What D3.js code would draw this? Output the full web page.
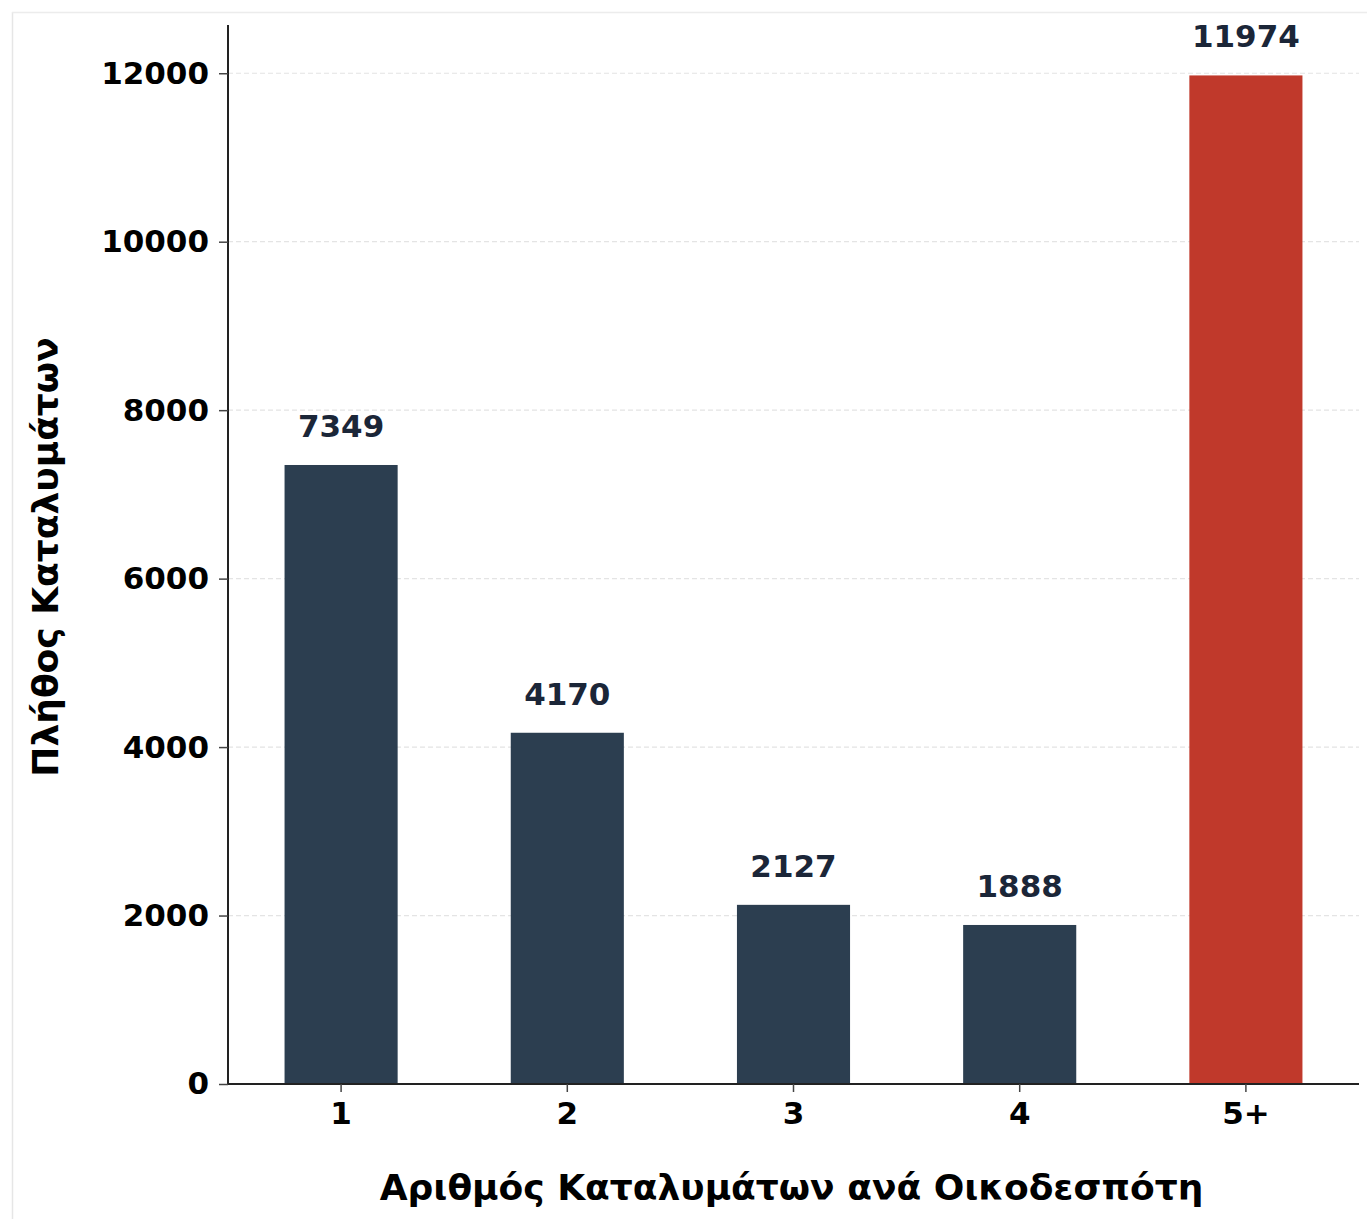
<!DOCTYPE html>
<html>
<head>
<meta charset="utf-8">
<script src="https://cdn.jsdelivr.net/npm/d3@7"></script>
<style>
  body { margin: 0; background: #fff; }
  text { font-family: "DejaVu Sans", sans-serif; font-weight: bold; }
</style>
</head>
<body>
<div id="chart"></div>
<script>
let categories = ['1', '2', '3', '4', '5+'];
let counts = [7349, 4170, 2127, 1888, 11974];
let yTicks = [0, 2000, 4000, 6000, 8000, 10000, 12000];
let xTitle = 'Αριθμός Καταλυμάτων ανά Οικοδεσπότη';
let yTitle = 'Πλήθος Καταλυμάτων';

let width = 1367, height = 1219;
let margin = { top: 25, right: 8, bottom: 135, left: 228 };

let svg = d3.select('#chart').append('svg')
    .attr('width', width)
    .attr('height', height);

// faint frame on the left and top edges
svg.append('line').attr('x1', 12.5).attr('x2', 12.5).attr('y1', 12).attr('y2', height)
    .attr('stroke', '#e6e6e6').attr('stroke-width', 1.5);
svg.append('line').attr('x1', 12).attr('x2', width).attr('y1', 12.5).attr('y2', 12.5)
    .attr('stroke', '#ececec').attr('stroke-width', 1.5);

let x = d3.scaleBand()
    .domain(categories)
    .range([margin.left, width - margin.right])
    .paddingInner(0.5)
    .paddingOuter(0.25);

let y = d3.scaleLinear()
    .domain([0, d3.max(counts) * 1.05])
    .range([height - margin.bottom, margin.top]);

// grid
svg.append('g')
    .selectAll('line')
    .data(yTicks.slice(1))
    .join('line')
    .attr('x1', margin.left)
    .attr('x2', width - margin.right)
    .attr('y1', d => y(d))
    .attr('y2', d => y(d))
    .attr('stroke', '#e4e4e4')
    .attr('stroke-width', 1.2)
    .attr('stroke-dasharray', '5,3');

svg.append('g')
    .selectAll('rect')
    .data(counts)
    .join('rect')
    .attr('x', (d, i) => x(categories[i]))
    .attr('width', x.bandwidth())
    .attr('y', d => y(d))
    .attr('height', d => y(0) - y(d))
    .attr('fill', (d, i) => categories[i] === '5+' ? '#c0392b' : '#2c3e50');

svg.append('g')
    .selectAll('text')
    .data(counts)
    .join('text')
    .attr('x', (d, i) => x(categories[i]) + x.bandwidth() / 2)
    .attr('y', d => y(d) - 28)
    .attr('text-anchor', 'middle')
    .attr('font-size', 31)
    .attr('fill', '#1b2638')
    .text(d => d);

let yAxis = svg.append('g')
    .attr('transform', `translate(${margin.left},0)`)
    .call(d3.axisLeft(y).tickValues(yTicks).tickFormat(d3.format('d')).tickSize(9).tickPadding(10));

let xAxis = svg.append('g')
    .attr('transform', `translate(0,${height - margin.bottom})`)
    .call(d3.axisBottom(x).tickSize(8).tickPadding(10));

[yAxis, xAxis].forEach(g => {
    g.select('.domain').attr('stroke', '#222').attr('stroke-width', 2);
    g.selectAll('.tick line').attr('stroke', '#444').attr('stroke-width', 1.5);
    g.selectAll('.tick text')
        .attr('font-size', 31)
        .attr('font-family', '"DejaVu Sans", sans-serif')
        .attr('font-weight', 'bold')
        .attr('fill', '#000');
});
yAxis.select('.domain').attr('d', `M0,${y.range()[1]}V${y.range()[0]}`);
xAxis.select('.domain').attr('d', `M${x.range()[0]},0H${x.range()[1]}`);

svg.append('text')
    .attr('x', (x.range()[0] + x.range()[1]) / 2 - 2)
    .attr('y', 1200)
    .attr('text-anchor', 'middle')
    .attr('font-size', 36)
    .attr('fill', '#000')
    .text(xTitle);

svg.append('text')
    .attr('transform', `translate(58,${557}) rotate(-90)`)
    .attr('text-anchor', 'middle')
    .attr('font-size', 36)
    .attr('fill', '#000')
    .text(yTitle);
</script>
</body>
</html>
